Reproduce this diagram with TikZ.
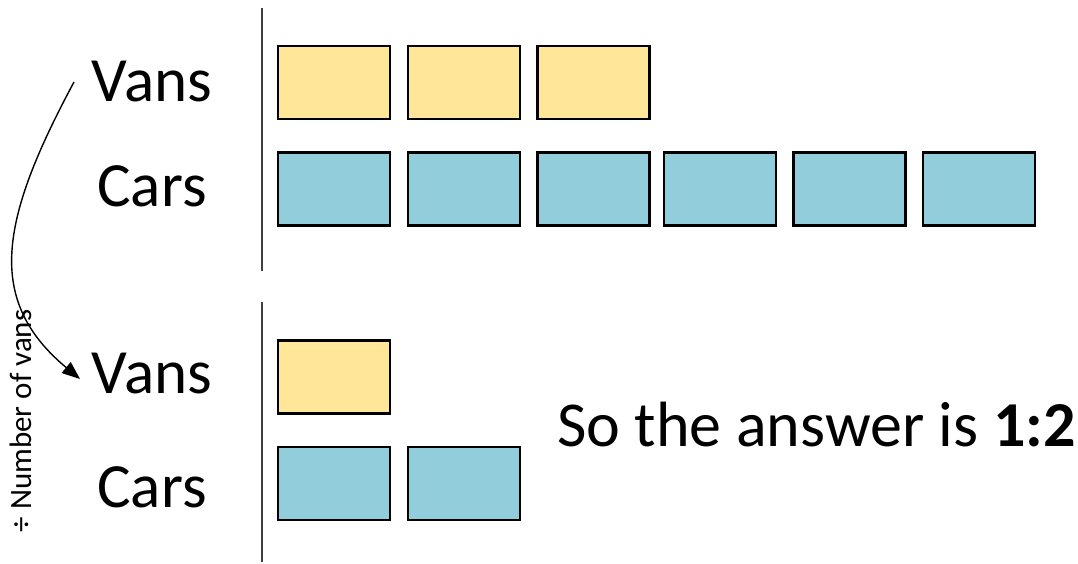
\documentclass[tikz,border=0pt]{standalone}
\usepackage{fontspec}
\setmainfont{Carlito}
\usetikzlibrary{arrows.meta}
\definecolor{vanfill}{HTML}{FFE699}
\definecolor{carfill}{HTML}{92CDDC}
\definecolor{sepgray}{HTML}{404040}
\begin{document}
\begin{tikzpicture}[x=1pt,y=-1pt,
  unitbox/.style={draw=black,line width=2.6pt,minimum width=112pt,minimum height=73pt,inner sep=0pt},
  vanbox/.style={unitbox,fill=vanfill},
  carbox/.style={unitbox,fill=carfill},
  label/.style={font=\fontsize{63}{70}\selectfont,anchor=base,inner sep=0pt},
  sepline/.style={draw=sepgray,line width=1.8pt}]
\useasboundingbox (0,0) rectangle (1078,564);
% separators
\coordinate (s1a) at (262,8); \coordinate (s1b) at (262,271);
\coordinate (s2a) at (262,302); \coordinate (s2b) at (262,562);
\draw[sepline] (s1a) -- (s1b);
\draw[sepline] (s2a) -- (s2b);
% labels
\node[label] (vans1) at (152,102) {Vans};
\node[label] (cars1) at (152,207) {Cars};
\node[label] (vans2) at (152,393) {Vans};
\node[label] (cars2) at (152,507) {Cars};
% top vans
\node[vanbox] (tv1) at (334,82.5) {};
\node[vanbox] (tv2) at (464,82.5) {};
\node[vanbox] (tv3) at (593.5,82.5) {};
% top cars
\node[carbox] (tc1) at (334,189) {};
\node[carbox] (tc2) at (464,189) {};
\node[carbox] (tc3) at (593.5,189) {};
\node[carbox] (tc4) at (720,189) {};
\node[carbox] (tc5) at (849.5,189) {};
\node[carbox] (tc6) at (979,189) {};
% bottom
\node[vanbox] (bv1) at (334,377) {};
\node[carbox] (bc1) at (334,483.5) {};
\node[carbox] (bc2) at (464,483.5) {};
% answer
\node[font=\fontsize{64}{70}\selectfont,anchor=base west,inner sep=0pt] (ans) at (557,446) {So the answer is \textbf{1:2}};
% arrow
\coordinate (astart) at (74,82);
\coordinate (aend) at (80,379);
\draw[line width=1.4pt,-{Triangle[length=18pt,width=14pt]}] (astart) .. controls (0,220) and (-15,300) .. (aend);
\node[rotate=90,font=\fontsize{31}{34}\selectfont,inner sep=0pt] (divtext) at (21,421) {÷ Number of vans};
\end{tikzpicture}
\end{document}
